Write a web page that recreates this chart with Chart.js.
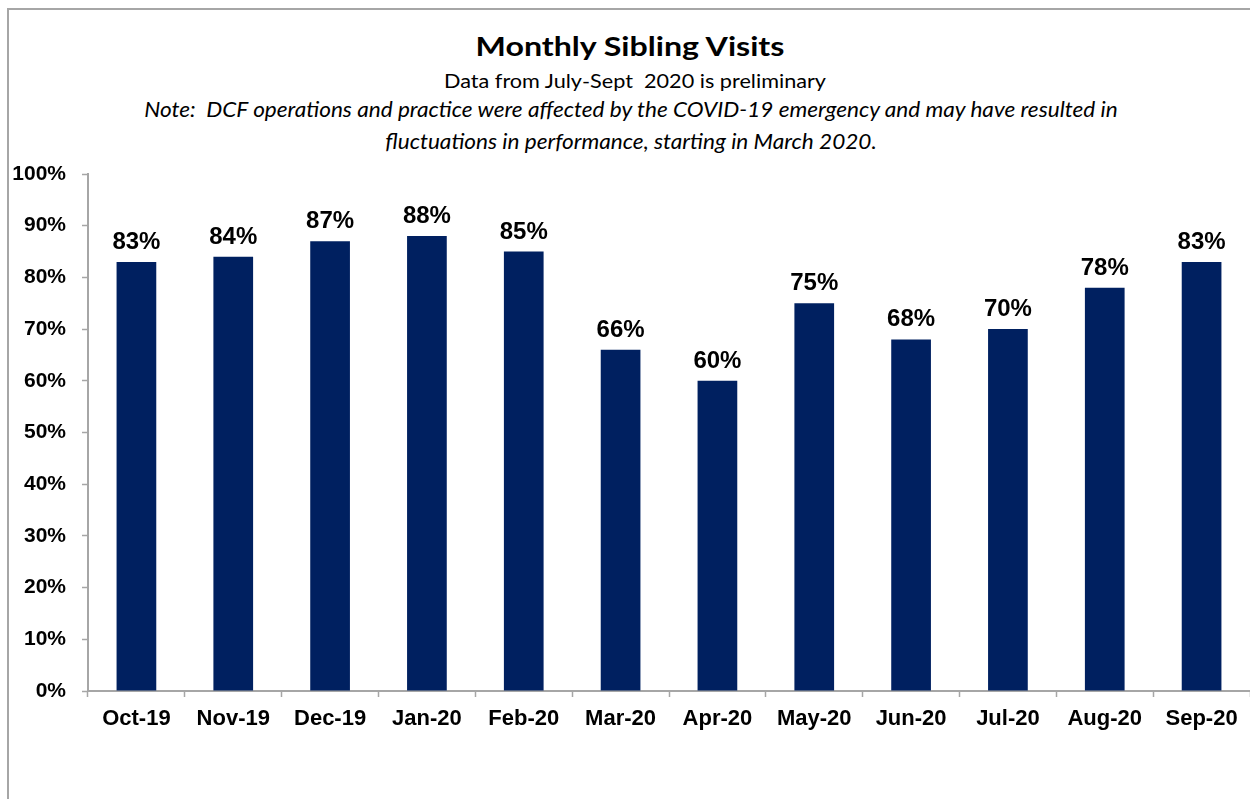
<!DOCTYPE html>
<html>
<head>
<meta charset="utf-8">
<title>Monthly Sibling Visits</title>
<script src="https://cdn.jsdelivr.net/npm/chart.js@4.4.1/dist/chart.umd.min.js"></script>
<style>
  html, body { margin: 0; padding: 0; background: #fff; }
  #page { position: relative; width: 1250px; height: 799px; overflow: hidden; }
  #frame {
    position: absolute; left: 7px; top: 8px; right: -10px; bottom: -10px;
    border-left: 2px solid #a6a6a6; border-top: 2px solid #a6a6a6;
  }
  .txt {
    position: absolute; left: 0; width: 1262px; text-align: center;
    font-family: Lato, "Open Sans", sans-serif; color: #000; white-space: pre;
    transform-origin: 50% 50%;
  }
  #title { top: 28px; font-size: 27px; font-weight: bold; line-height: 36px; transform: scaleX(1.19); left: -1px; }
  #sub { top: 68px; font-size: 18.5px; line-height: 26px; transform: scaleX(1.17); left: 4px; }
  #note { top: 93px; font-size: 21px; font-style: italic; line-height: 32px; transform: scaleX(1.075); }
  #chartBox { position: absolute; left: 0; top: 0; width: 1250px; height: 799px; }
</style>
</head>
<body>
<div id="page">
  <div id="frame"></div>
  <div class="txt" id="title">Monthly Sibling Visits</div>
  <div class="txt" id="sub">Data from July-Sept  2020 is preliminary</div>
  <div class="txt" id="note">Note:  DCF operations and practice were affected by the COVID-19 emergency and may have resulted in
fluctuations in performance, starting in March 2020.</div>
  <div id="chartBox"><canvas id="chart"></canvas></div>
</div>
<script>
// Monthly share of children with sibling visits (percent)
const months = ['Oct-19', 'Nov-19', 'Dec-19', 'Jan-20', 'Feb-20', 'Mar-20',
  'Apr-20', 'May-20', 'Jun-20', 'Jul-20', 'Aug-20', 'Sep-20'];
const visitRates = [83, 84, 87, 88, 85, 66, 60, 75, 68, 70, 78, 83];
const yTicks = [0, 10, 20, 30, 40, 50, 60, 70, 80, 90, 100];

const axisGray = '#a6a6a6';
const barBlue = '#002060';

// Draws the percentage above each bar
const barValueLabels = {
  id: 'barValueLabels',
  afterDatasetsDraw(chart) {
    const ctx = chart.ctx;
    const meta = chart.getDatasetMeta(0);
    ctx.save();
    ctx.font = 'bold 24px "Liberation Sans", Arial, sans-serif';
    ctx.fillStyle = '#000';
    ctx.textAlign = 'center';
    ctx.textBaseline = 'alphabetic';
    meta.data.forEach((bar, i) => {
      ctx.fillText(visitRates[i] + '%', bar.x, bar.y - 13);
    });
    ctx.restore();
  }
};

new Chart(document.getElementById('chart'), {
  type: 'bar',
  data: {
    labels: months,
    datasets: [{
      data: visitRates,
      backgroundColor: barBlue,
      borderWidth: 0,
      categoryPercentage: 0.82,
      barPercentage: 0.5
    }]
  },
  options: {
    responsive: true,
    maintainAspectRatio: false,
    animation: false,
    layout: { padding: { left: 12, right: 0, top: 174, bottom: 46 } },
    plugins: {
      legend: { display: false },
      tooltip: { enabled: false },
      title: { display: false }
    },
    scales: {
      x: {
        offset: true,
        grid: {
          offset: true,
          drawOnChartArea: false,
          drawTicks: true,
          tickLength: 6,
          tickColor: axisGray,
          tickWidth: 1.5
        },
        border: { display: true, color: axisGray, width: 2 },
        ticks: {
          color: '#000',
          padding: 9,
          maxRotation: 0,
          font: { family: '"Liberation Sans", Arial, sans-serif', size: 22, weight: 'bold' }
        },
        afterFit(scale) { scale.height = 62; }
      },
      y: {
        min: 0,
        max: 100,
        afterBuildTicks(scale) {
          scale.ticks = yTicks.map(v => ({ value: v }));
        },
        grid: {
          drawOnChartArea: false,
          drawTicks: true,
          tickLength: 6,
          tickColor: axisGray,
          tickWidth: 1.5
        },
        border: { display: true, color: axisGray, width: 2 },
        ticks: {
          color: '#000',
          padding: 16,
          callback: v => v + '%',
          font: { family: '"Liberation Sans", Arial, sans-serif', size: 21, weight: 'bold' }
        },
        afterFit(scale) { scale.width = 76; }
      }
    }
  },
  plugins: [barValueLabels]
});
</script>
</body>
</html>
